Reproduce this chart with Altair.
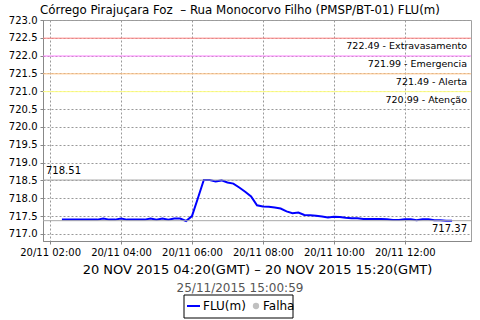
import altair as alt
import pandas as pd

# ---- data ----
times = pd.date_range("2015-11-20T02:20:00Z", "2015-11-20T13:20:00Z", freq="10min")
levels = [
    717.40, 717.40, 717.40, 717.40, 717.40, 717.40, 717.40, 717.43, 717.40, 717.40,
    717.43, 717.40, 717.40, 717.40, 717.40, 717.43, 717.40, 717.43, 717.40, 717.43,
    717.43, 717.36, 717.50, 718.00, 718.51, 718.51, 718.47, 718.50, 718.44, 718.41,
    718.30, 718.18, 718.05, 717.80, 717.77, 717.76, 717.74, 717.71, 717.63, 717.58,
    717.60, 717.53, 717.52, 717.51, 717.49, 717.46, 717.48, 717.47, 717.45, 717.44,
    717.44, 717.42, 717.42, 717.42, 717.42, 717.41, 717.39, 717.39, 717.41, 717.41,
    717.38, 717.41, 717.41, 717.38, 717.38, 717.37, 717.37,
]
series = pd.DataFrame({"t": [t.strftime("%Y-%m-%dT%H:%M:%SZ") for t in times], "v": levels})

thr_values = [722.49, 721.99, 721.49, 720.99]
thr_names = ["Extravasamento", "Emergencia", "Alerta", "Atenção"]
thr_colors = ["#ff8080", "#ff80ff", "#ffc080", "#ffff80"]
thr = pd.DataFrame({"v": thr_values, "name": thr_names,
                    "label": [f"{v:.2f} - {n}" for v, n in zip(thr_values, thr_names)]})

max_val = 718.51
last_val = 717.37
stats = pd.DataFrame({"v": [max_val, last_val]})

y_ticks = [717.0 + 0.5 * i for i in range(13)]
x_tick_hours = [2, 4, 6, 8, 10, 12]

title_text = "Córrego Pirajuçara Foz\u00a0 – Rua Monocorvo Filho (PMSP/BT-01) FLU(m)"
x_title = "20 NOV 2015 04:20(GMT) – 20 NOV 2015 15:20(GMT)"
stamp_text = "25/11/2015 15:00:59"
legend_items = ["FLU(m)", "Falha"]

FONT = "DejaVu Sans"

W, H = 428, 221

xscale = alt.Scale(type="utc",
                   domain=[alt.DateTime(year=2015, month=11, date=20, hours=1, minutes=48, utc=True),
                           alt.DateTime(year=2015, month=11, date=20, hours=13, minutes=52, utc=True)])
yscale = alt.Scale(domain=[716.8, 723.0], nice=False, zero=False)

xaxis = alt.Axis(values=[alt.DateTime(year=2015, month=11, date=20, hours=h, utc=True) for h in x_tick_hours],
                 labelExpr="utcFormat(datum.value, '%d/%m %H:%M')",
                 title=x_title, titleFontSize=13, titleFontWeight="normal",
                 titlePadding=6, labelFlush=False, grid=True)
yaxis = alt.Axis(values=y_ticks, format=".1f", title=None, grid=True)


def Y():
    return alt.Y("v:Q", scale=yscale, axis=yaxis)


line = alt.Chart(series).mark_line(color="#0000ff", strokeWidth=2).encode(
    x=alt.X("t:T", scale=xscale, axis=xaxis),
    y=Y(),
)

thr_rules = alt.Chart(thr).mark_rule(strokeWidth=1).encode(
    y=Y(),
    color=alt.Color("name:N", scale=alt.Scale(domain=thr_names, range=thr_colors), legend=None),
)
thr_text = alt.Chart(thr).mark_text(align="right", baseline="middle", dy=8, font=FONT,
                                    fontSize=9.5, color="#000").encode(
    x=alt.value(W - 4), y=Y(), text="label:N")

stat_rules = alt.Chart(stats).mark_rule(color="#a8a8a8", strokeWidth=1).encode(y=Y())
max_text = alt.Chart(pd.DataFrame({"v": [max_val]})).mark_text(
    align="left", baseline="middle", dy=-9, font=FONT, fontSize=10, color="#000").encode(
    x=alt.value(3), y=Y(), text=alt.Text("v:Q", format=".2f"))
last_text = alt.Chart(pd.DataFrame({"v": [last_val]})).mark_text(
    align="right", baseline="middle", dy=8, font=FONT, fontSize=10, color="#000").encode(
    x=alt.value(W - 4), y=Y(), text=alt.Text("v:Q", format=".2f"))

one = pd.DataFrame({"a": [0]})
title_mark = alt.Chart(one).mark_text(align="center", baseline="alphabetic", font=FONT,
                                      fontSize=11.8, color="#000").encode(
    x=alt.value(240 - 43), y=alt.value(-6), text=alt.value(title_text))
stamp_mark = alt.Chart(one).mark_text(align="center", baseline="alphabetic", font=FONT,
                                      fontSize=12, color="#555").encode(
    x=alt.value(240 - 43), y=alt.value(292 - 20), text=alt.value(stamp_text))

# legend box
leg_box = alt.Chart(one).mark_rect(fill="white", stroke="#000", strokeWidth=1).encode(
    x=alt.value(184 - 43), x2=alt.value(293 - 43), y=alt.value(295 - 20), y2=alt.value(318 - 20))
leg_line = alt.Chart(one).mark_rule(color="#0000ff", strokeWidth=2).encode(
    x=alt.value(187 - 43), x2=alt.value(200 - 43), y=alt.value(306 - 20))
leg_t1 = alt.Chart(one).mark_text(align="left", baseline="middle", font=FONT, fontSize=12,
                                  color="#000").encode(
    x=alt.value(203 - 43), y=alt.value(306 - 20), text=alt.value(legend_items[0]))
leg_dot = alt.Chart(one).mark_point(filled=True, color="#c0c0c0", size=40, opacity=1).encode(
    x=alt.value(256 - 43), y=alt.value(306 - 20))
leg_t2 = alt.Chart(one).mark_text(align="left", baseline="middle", font=FONT, fontSize=12,
                                  color="#000").encode(
    x=alt.value(263 - 43), y=alt.value(306 - 20), text=alt.value(legend_items[1]))

chart = alt.layer(
    line, thr_rules, stat_rules, thr_text, max_text, last_text,
    title_mark, leg_box, stamp_mark, leg_line, leg_t1, leg_dot, leg_t2,
).properties(
    width=W, height=H,
    autosize=alt.AutoSizeParams(type="none"),
    padding={"left": 43, "top": 20, "right": 9, "bottom": 79},
    background="white",
).configure_view(stroke="#a0a0a0").configure_axis(
    grid=True, gridDash=[2, 2], gridColor="#999999", gridOpacity=1, gridWidth=1,
    labelOverlap=False, labelFont=FONT, labelFontSize=10, labelColor="#000", labelPadding=3,
    tickSize=3, tickColor="#888", domainColor="#888",
    titleFont=FONT, titleColor="#000",
)

chart.save("out.html", embed_options={"renderer": "svg", "actions": False})
